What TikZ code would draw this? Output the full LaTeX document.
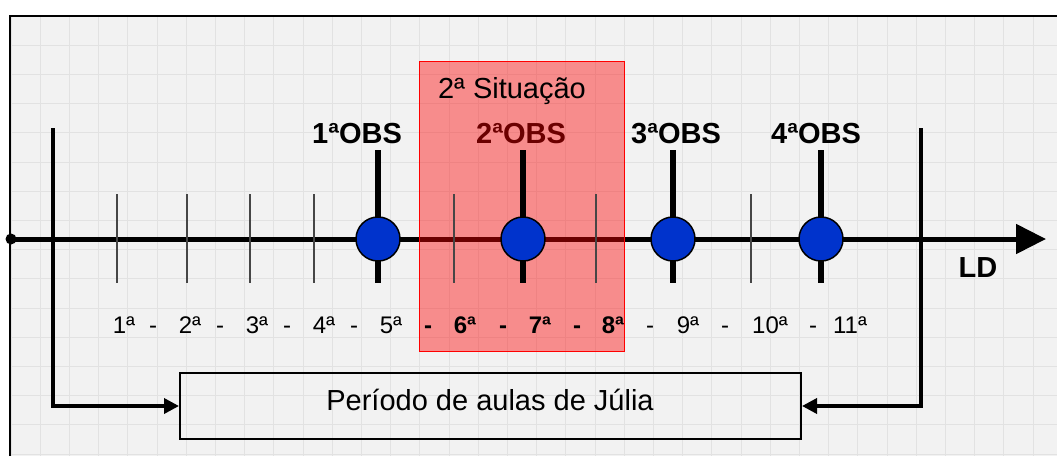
\documentclass[tikz,border=0pt]{standalone}
\usepackage{fontspec}
\setmainfont{Liberation Sans}
\usetikzlibrary{arrows.meta,positioning,calc}
\definecolor{paper}{RGB}{242,242,242}
\definecolor{gridc}{RGB}{226,226,226}
\definecolor{obsblue}{RGB}{0,51,204}
\definecolor{tickc}{RGB}{70,70,70}

\begin{document}
\begin{tikzpicture}[x=1pt,y=-1pt,
  gridline/.style={gridc,line width=0.8pt},
  thintick/.style={tickc,line width=1.5pt},
  obsstick/.style={black,line width=5.5pt},
  obsdot/.style={circle,draw=black,line width=1.5pt,fill=obsblue,minimum size=44pt,inner sep=0pt},
  obslabel/.style={anchor=base,inner sep=0pt,font=\fontsize{29}{34}\selectfont\bfseries},
  numlabel/.style={anchor=base,inner sep=0pt,font=\fontsize{24}{28}\selectfont},
  bracket/.style={line width=3.5pt,-{Triangle[length=15pt,width=15pt]}},
]
\useasboundingbox (0,0) rectangle (1057,456);
\fill[paper] (10,16) rectangle (1057,456);
\begin{scope}
\clip (10,16) rectangle (1057,456);
\foreach \i in {0,...,36}
  \draw[gridline] ({11+29.2*\i},16) -- ({11+29.2*\i},456);
\foreach \i in {0,...,15}
  \draw[gridline] (10,{16+29.2*\i}) -- (1057,{16+29.2*\i});
\end{scope}
\draw[line width=1.5pt] (10,456) -- (10,16) -- (1057,16);

\node[circle,fill=black,inner sep=0pt,minimum size=11pt] (start) at (11,239) {};
\coordinate (tip) at (1046,239);
\draw[line width=5pt,-{Triangle[length=30pt,width=29pt]}] (start.center) -- (tip);

\node[obslabel] (lab2) at (521,143) {2ªOBS};

\node[draw=red,line width=0.8pt,fill=red,fill opacity=0.42,minimum width=205pt,minimum height=290pt,inner sep=0pt] (sit) at (521.5,206) {};
\node[anchor=base,inner sep=0pt,font=\fontsize{29}{34}\selectfont] (sittext) at (512,98) {2ª Situação};

\foreach \x in {117,187,250,314,454,596,751}
  \draw[thintick] (\x,194) -- (\x,283);

\def\obs{1/378,2/523,3/673,4/821}
\foreach \i/\x in \obs {
  \draw[obsstick] (\x,150) -- (\x,283);
  \node[obsdot] (o\i) at (\x,239) {};
}
\node[obslabel] (lab1) at (357,143) {1ªOBS};
\node[obslabel] (lab3) at (676,143) {3ªOBS};
\node[obslabel] (lab4) at (816,143) {4ªOBS};
\node[obslabel] (ld) at (978,277) {LD};

\coordinate (ltop) at (53,128);
\coordinate (rtop) at (921,128);
\node[draw,line width=2pt,minimum width=621pt,minimum height=66pt,inner sep=0pt] (box) at (490.5,406) {};
\node[anchor=base,inner sep=0pt,font=\fontsize{29}{34}\selectfont] (period) at (490,410) {Período de aulas de Júlia};
\draw[bracket] (ltop) |- (box.west);
\draw[bracket] (rtop) |- (box.east);

\foreach \x/\t [count=\i] in {124/1ª,153/-,190/2ª,220/-,257/3ª,287/-,324/4ª,354/-,391/5ª,428/\textbf{-},465/\textbf{6ª},503/\textbf{-},540/\textbf{7ª},577/\textbf{-},613/\textbf{8ª},650/-,688/9ª,725/-,770/10ª,813/-,850/11ª}
  \node[numlabel] (n\i) at (\x,333) {\t};

\end{tikzpicture}
\end{document}
